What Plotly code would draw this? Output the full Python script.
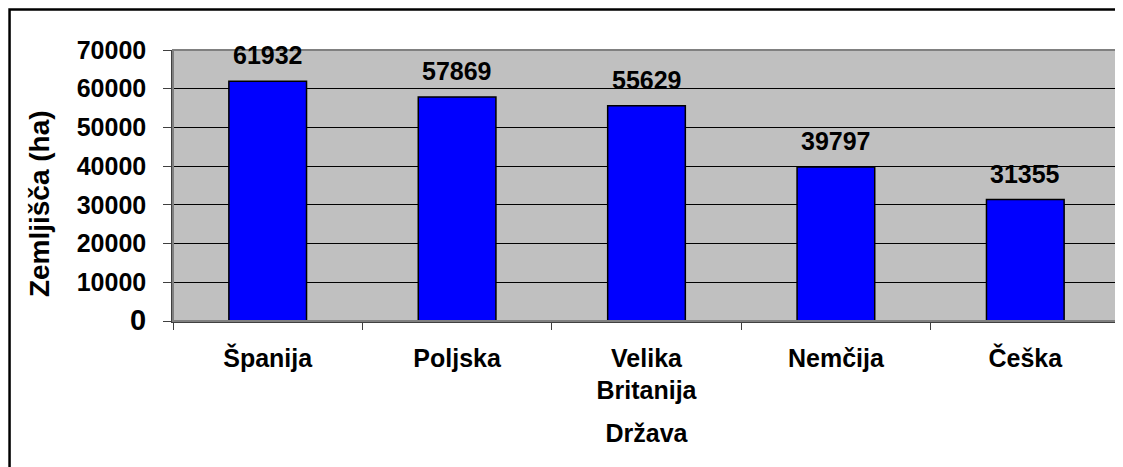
import plotly.graph_objects as go

countries = ["Španija", "Poljska", "Velika<br>Britanija", "Nemčija", "Češka"]
land_ha = [61932, 57869, 55629, 39797, 31355]
y_ticks = [0, 10000, 20000, 30000, 40000, 50000, 60000, 70000]

FONT = dict(family="Liberation Sans, Arial, sans-serif", size=25, color="black", weight="bold")

fig = go.Figure()
fig.add_trace(
    go.Bar(
        x=countries,
        y=land_ha,
        width=0.41,
        marker=dict(color="#0000FF", line=dict(color="black", width=1.5)),
        hoverinfo="x+y",
    )
)

# value labels above bars
for c, v in zip(countries, land_ha):
    fig.add_annotation(
        x=c, y=v, text=str(v), showarrow=False,
        yanchor="bottom", yshift=10, font=FONT,
    )

# y axis title placed by hand (it sits a little below the plot centre)
fig.add_annotation(
    text="Zemljišča (ha)", textangle=-90, showarrow=False,
    xref="paper", yref="paper", x=-0.1415, y=0.435,
    xanchor="center", yanchor="middle", font=dict(FONT, size=28),
)

# labels for y: Excel drew the zero a bit larger
y_text = ["<span style='font-size:29px'>0</span>" if t == 0 else str(t) for t in y_ticks]

# page body has an 8px margin, so the figure is 8px smaller than the window
fig.update_layout(
    width=1115,
    height=459,
    margin=dict(l=165, r=3, t=42, b=146),
    paper_bgcolor="white",
    plot_bgcolor="#C0C0C0",
    font=FONT,
    showlegend=False,
    shapes=[
        # plot area border
        dict(type="rect", xref="paper", yref="paper", x0=0, x1=1, y0=0, y1=1,
             line=dict(color="#808080", width=2), layer="above"),
        # outer chart border (right and bottom run off the picture)
        dict(type="rect", xref="paper", yref="paper", x0=-0.1726, x1=1.2, y0=-0.7, y1=1.1494,
             line=dict(color="black", width=2.5), layer="below"),
    ],
)

fig.update_yaxes(
    range=[0, 70000],
    tickvals=y_ticks,
    ticktext=y_text,
    showgrid=True,
    gridcolor="black",
    gridwidth=1,
    zeroline=False,
    showline=True,
    linecolor="#404040",
    linewidth=1.5,
    ticks="outside",
    ticklen=8,
    tickcolor="#404040",
    ticklabelstandoff=12,
)

fig.update_xaxes(
    showline=True,
    linecolor="#404040",
    linewidth=1.5,
    ticks="outside",
    ticklen=7,
    tickcolor="#404040",
    tickson="boundaries",
    ticklabelstandoff=14,
    title=dict(text="Država", standoff=21, font=FONT),
)

fig.write_html("out.html")
